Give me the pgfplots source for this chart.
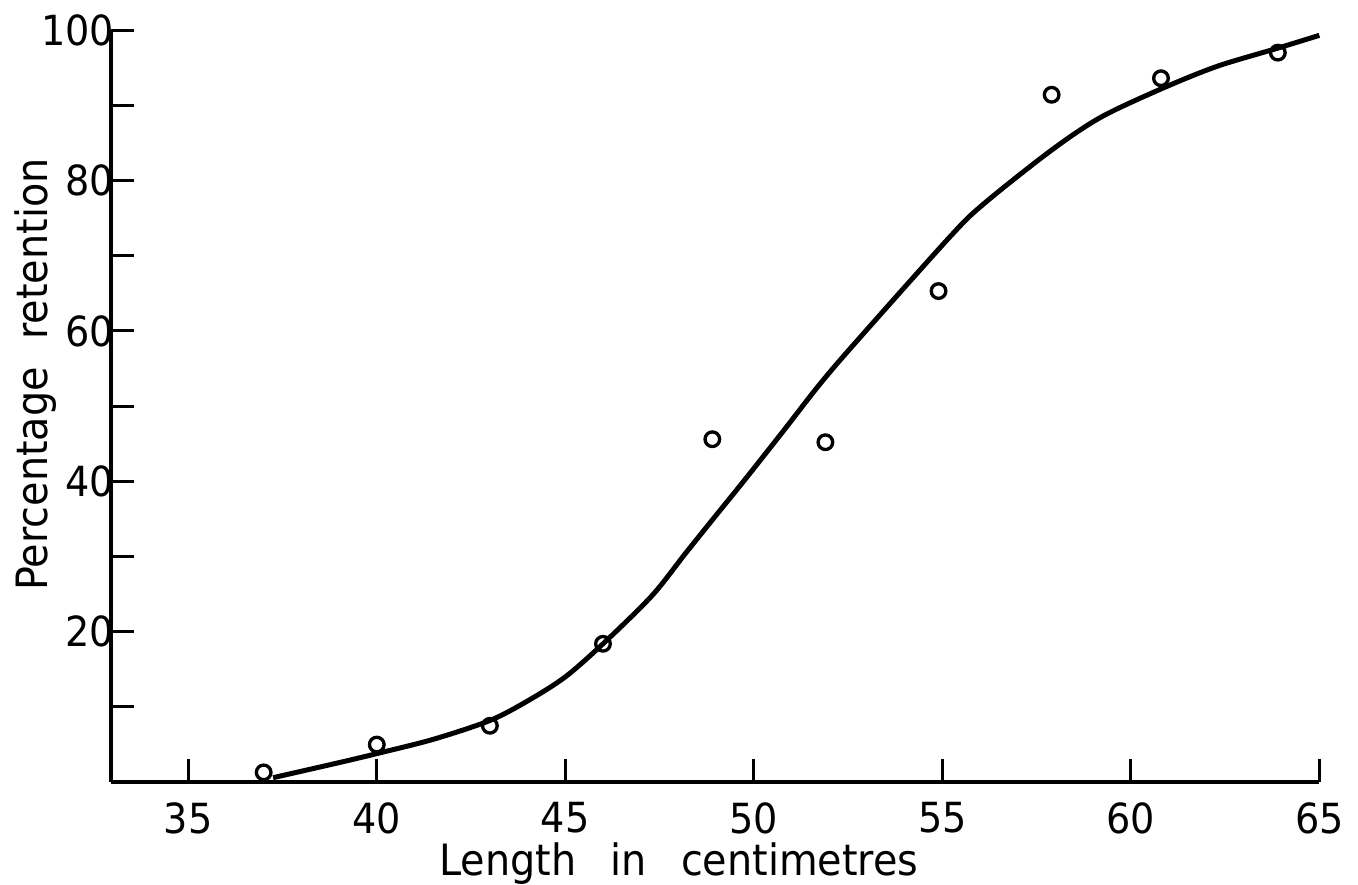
\documentclass[border=0pt]{standalone}
\usepackage{fontspec}
\setmainfont{DejaVu Sans}[FakeStretch=0.92]
\usepackage{pgfplots}
\pgfplotsset{compat=1.18}

\begin{document}
\fontsize{13}{15}\selectfont
\begin{tikzpicture}
\begin{axis}[
  scale only axis, width=363.9pt, height=226.5pt,
  axis lines=left, axis line style={line width=1.1pt, -},
  xmin=32.95, xmax=65, ymin=0, ymax=100,
  xtick={35,40,...,65}, ytick={10,20,...,100},
  yticklabels={,20,,40,,60,,80,,100},
  tick align=inside, major tick length=7pt,
  tick style={line width=0.9pt, black},
  /pgf/number format/assume math mode=true,
  ticklabel style={font=\fontsize{12.5}{14}\selectfont},
  xticklabel style={yshift=-1.5pt},
  yticklabel style={inner xsep=0pt, xshift=1.2pt},
  xlabel={Length\hspace{0.5em} in\hspace{0.5em} centimetres},
  ylabel={Percentage\hspace{0.35em} retention},
  every axis x label/.style={at={(axis description cs:0.47,0)}, anchor=north, inner sep=0pt, yshift=-18pt},
  every axis y label/.style={at={(axis description cs:-0.032,0.542)}, rotate=90, anchor=south, inner xsep=0pt, inner ysep=4.5pt},
  clip=false
]
\addplot[black, line width=1.5pt, smooth, tension=0.5] coordinates {
  (37.25,0.6) (39,2.6) (40,3.8) (41.5,5.7) (43,8.2) (44,10.8) (45,14.0) (46,18.4)
  (47.3,24.8) (48.2,30.5) (49.05,35.8) (49.76,40.2) (50.8,46.8) (51.7,52.6) (52.6,57.9)
  (55.2,72.5) (56.1,76.9) (57.86,83.9) (59.2,88.4) (60.86,92.3) (62.3,95.2) (63.9,97.6) (65,99.3)
};
\addplot[only marks, mark=o, mark size=2.2pt, mark options={line width=1pt, black}] coordinates {
  (37.0,1.3) (40,5.0) (43,7.5) (46,18.4) (48.9,45.6) (51.9,45.2)
  (54.9,65.3) (57.9,91.4) (60.8,93.6) (63.9,97.0)
};
\end{axis}
\end{tikzpicture}
\end{document}
